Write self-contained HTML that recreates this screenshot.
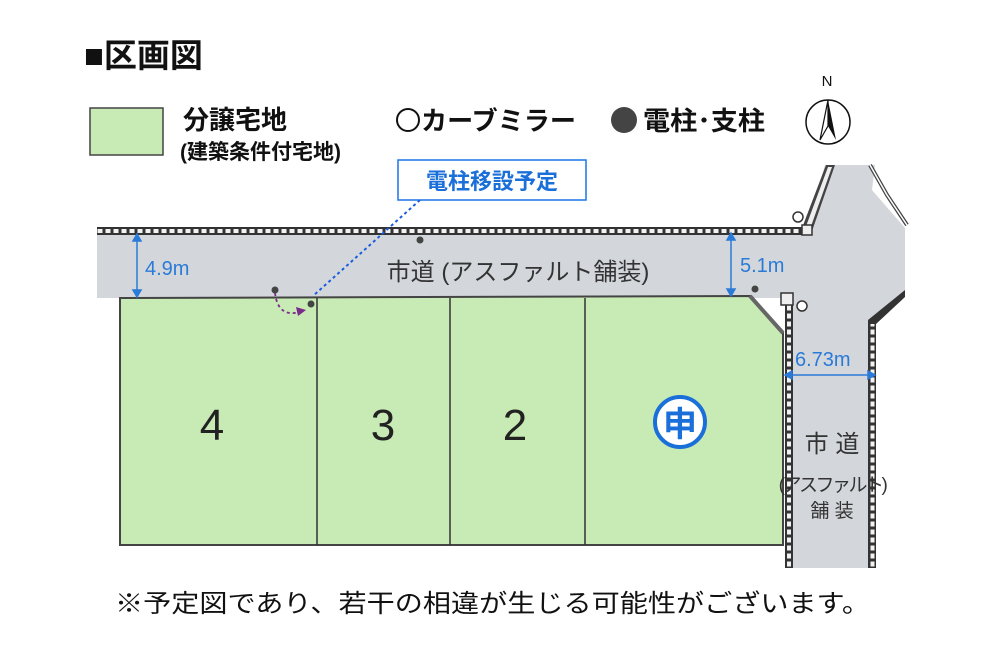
<!DOCTYPE html>
<html><head><meta charset="utf-8"><style>
body{margin:0;background:#fff;}
svg{display:block}
text{font-family:"Liberation Sans","Noto Sans CJK JP",sans-serif;}
</style></head><body>
<svg width="1000" height="652" viewBox="0 0 1000 652" xmlns="http://www.w3.org/2000/svg">
<defs>
<pattern id="curbH" x="0" y="227" width="8" height="8" patternUnits="userSpaceOnUse"><rect width="8" height="8" fill="#333"/><rect x="1.5" y="2" width="5" height="4" fill="#f2f2f2"/></pattern>
<pattern id="curbV" x="785" y="0" width="8" height="8" patternUnits="userSpaceOnUse"><rect width="8" height="8" fill="#333"/><rect x="2" y="1.5" width="4" height="5" fill="#f2f2f2"/></pattern>
<pattern id="curbV2" x="869" y="0" width="7" height="8" patternUnits="userSpaceOnUse"><rect width="7" height="8" fill="#333"/><rect x="1.5" y="1.5" width="4" height="5" fill="#f2f2f2"/></pattern>
</defs>
<polygon points="97,234 805,234 825,165 875,165 872,190 905,228 905,293 872,322 872,568 793,568 793,298 97,298" fill="#d3d7db"/>
<rect x="97" y="227" width="706" height="8" fill="url(#curbH)"/>
<polygon points="802,228 826,165 835,165 811,234" fill="#444"/>
<polygon points="805,229 828,167 832,167 809,232" fill="#eee"/>
<rect x="802" y="225" width="10" height="10" fill="#eee" stroke="#333" stroke-width="1.5"/>
<polyline points="870,165 887,195 907,225" fill="none" stroke="#444" stroke-width="4"/>
<polyline points="870,165 887,195 907,225" fill="none" stroke="#fff" stroke-width="1.5"/>
<polygon points="905,290 905,297 876,324 876,568 868,568 868,320" fill="#333"/>
<rect x="869" y="324" width="7" height="244" fill="url(#curbV2)"/>
<rect x="785" y="300" width="8" height="268" fill="url(#curbV)"/>
<rect x="781" y="293" width="12" height="12" fill="#eee" stroke="#333" stroke-width="1.5"/>
<polygon points="120,298 750,296 783,333 783,545 120,545" fill="#c8ebb5" stroke="#444" stroke-width="2"/>
<line x1="750" y1="296" x2="783" y2="333" stroke="#666" stroke-width="4"/>
<line x1="317" y1="298" x2="317" y2="545" stroke="#333" stroke-width="1.5"/>
<line x1="450" y1="298" x2="450" y2="545" stroke="#333" stroke-width="1.5"/>
<line x1="585" y1="298" x2="585" y2="545" stroke="#333" stroke-width="1.5"/>
<circle cx="420" cy="240" r="3.5" fill="#444"/>
<circle cx="275" cy="290" r="3.5" fill="#444"/>
<circle cx="311" cy="304" r="3.5" fill="#444"/>
<circle cx="755" cy="289" r="3.5" fill="#444"/>
<circle cx="798" cy="217" r="5" fill="#fff" stroke="#333" stroke-width="1.5"/>
<circle cx="802" cy="306" r="5" fill="#fff" stroke="#333" stroke-width="1.5"/>
<path d="M275,293 Q278,318 300,312" fill="none" stroke="#7a2a8a" stroke-width="1.8" stroke-dasharray="3,3"/>
<polygon points="296,307 306,310 298,316" fill="#7a2a8a"/>
<line x1="420" y1="200" x2="313" y2="296" stroke="#1a5ce0" stroke-width="2" stroke-dasharray="3,3"/>
<rect x="398" y="160" width="188" height="40" fill="#fff" stroke="#1a73e8" stroke-width="1.5"/>
<text x="492" y="189" font-size="22" font-weight="bold" fill="#1a6fd8" text-anchor="middle">電柱移設予定</text>
<g stroke="#2a7ad8" stroke-width="1.5" fill="#2a7ad8">
<line x1="137" y1="236" x2="137" y2="294"/><polygon points="133,241 141,241 137,234"/><polygon points="133,290 141,290 137,297"/>
<line x1="731" y1="235" x2="731" y2="293"/><polygon points="727,240 735,240 731,233"/><polygon points="727,289 735,289 731,296"/>
<line x1="787" y1="375" x2="873" y2="375"/><polygon points="792,371 792,379 785,375"/><polygon points="868,371 868,379 875,375"/>
</g>
<text x="145" y="275" font-size="20" fill="#2a7ad8">4.9m</text>
<text x="740" y="272" font-size="20" fill="#2a7ad8">5.1m</text>
<text x="795" y="366" font-size="20" fill="#2a7ad8">6.73m</text>
<text x="518" y="280" font-size="24" fill="#333" text-anchor="middle">市道 (アスファルト舗装)</text>
<text x="832" y="452" font-size="24" fill="#333" text-anchor="middle">市 道</text>
<text x="832" y="491" font-size="19" fill="#333" text-anchor="middle" letter-spacing="-2.5">(アスファルト)</text>
<text x="832" y="517" font-size="19" fill="#333" text-anchor="middle">舗 装</text>
<text x="212" y="440" font-size="44" fill="#222" text-anchor="middle">4</text>
<text x="383" y="440" font-size="44" fill="#222" text-anchor="middle">3</text>
<text x="515" y="440" font-size="44" fill="#222" text-anchor="middle">2</text>
<circle cx="680" cy="422" r="25" fill="#fff" stroke="#1a6fd8" stroke-width="4"/>
<text x="680" y="436" font-size="34" font-weight="bold" fill="#1a6fd8" text-anchor="middle">申</text>
<text x="84" y="67" font-size="33" font-weight="bold" fill="#111">■区画図</text>
<rect x="90" y="108" width="73" height="47" fill="#c8ebb5" stroke="#444" stroke-width="1.5"/>
<text x="183" y="129" font-size="26" font-weight="bold" fill="#111">分譲宅地</text>
<text x="180" y="159" font-size="21" font-weight="bold" fill="#111">(建築条件付宅地)</text>
<circle cx="408" cy="120" r="11" fill="none" stroke="#111" stroke-width="2"/>
<text x="421" y="130" font-size="26" font-weight="bold" fill="#111" textLength="155" lengthAdjust="spacingAndGlyphs">カーブミラー</text>
<circle cx="624" cy="120" r="13" fill="#444"/>
<text x="643" y="130" font-size="26" font-weight="bold" fill="#111" textLength="122" lengthAdjust="spacingAndGlyphs">電柱･支柱</text>
<text x="827" y="86" font-size="15" fill="#111" text-anchor="middle" font-family="Liberation Serif">N</text>
<circle cx="828" cy="122" r="22" fill="#fff" stroke="#111" stroke-width="1.5"/>
<polygon points="828,100 820,140 828,126" fill="#fff" stroke="#111" stroke-width="1.2"/>
<polygon points="828,100 836,140 828,126" fill="#111"/>
<text x="115" y="612" font-size="25" fill="#111" textLength="755" lengthAdjust="spacingAndGlyphs">※予定図であり、若干の相違が生じる可能性がございます。</text>
</svg>
</body></html>
